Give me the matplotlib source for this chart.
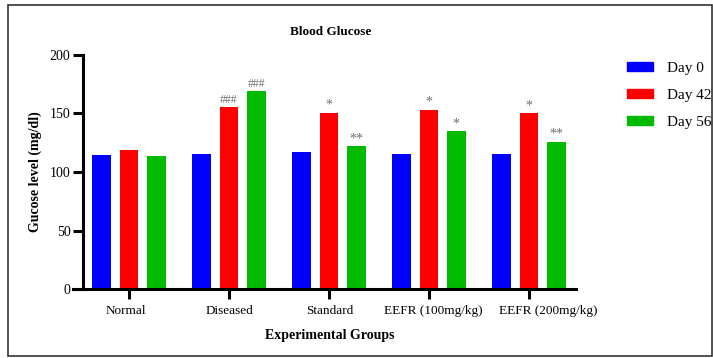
import numpy as np
import matplotlib
matplotlib.use("Agg")
import matplotlib.pyplot as plt
from matplotlib.patches import Rectangle, Patch
from matplotlib.transforms import ScaledTranslation

plt.rcParams['font.family'] = ['Liberation Serif', 'DejaVu Serif']

# Blood glucose per group and day (mg/dl)
groups = ["Normal", "Diseased", "Standard", "EEFR (100mg/kg)", "EEFR (200mg/kg)"]
days = ["Day 0", "Day 42", "Day 56"]
day0 = [114.4, 115.3, 117.0, 115.6, 115.6]
day42 = [118.4, 155.2, 150.3, 152.9, 150.1]
day56 = [113.6, 169.2, 121.8, 134.7, 125.5]
marks42 = ["", "###", "*", "*", "*"]
marks56 = ["", "###", "**", "*", "**"]

colors = ["#0000ff", "#ff0000", "#00bb00"]

fig = plt.figure(figsize=(7.13, 3.58), dpi=100)
ax = fig.add_axes([0.1024, 0.1927, 0.7055, 0.6537])

x = np.arange(len(groups))
width = 0.187
step = 0.273
series = [day0, day42, day56]
for i, (vals, col, lab) in enumerate(zip(series, colors, days)):
    ax.bar(x + (i - 1) * step, vals, width, color=col, label=lab, zorder=2)


def mark(xpos, val, txt):
    size = 8.5 if txt.startswith('#') else 10
    ax.text(xpos, val + 1.0, txt, ha='center', va='bottom', fontsize=size, color='#707070')


# significance marks above Day 42 and Day 56 bars
for xi, v, m in zip(x, day42, marks42):
    if m:
        mark(xi, v, m)
for xi, v, m in zip(x, day56, marks56):
    if m:
        mark(xi + step, v, m)

ax.set_xlim(-0.56, 4.47)
ax.set_ylim(0, 200)
ax.set_yticks([0, 50, 100, 150, 200])
ax.set_xticks(x)
ax.set_xticklabels([])
for t in ax.get_yticklabels():
    t.set_fontweight('bold')
    t.set_fontsize(10)

# group names under the ticks, a few pushed sideways
shifts = [-3, 0, 1, 4, 19]
for xi, name, dx in zip(x, groups, shifts):
    tr = ax.get_xaxis_transform() + ScaledTranslation(dx / 100, -0.16, fig.dpi_scale_trans)
    ax.text(xi, 0, name, transform=tr, ha='center', va='top', fontsize=9.5)

ax.spines['top'].set_visible(False)
ax.spines['right'].set_visible(False)
ax.spines['left'].set_position(('data', -0.46))
for s in ('left', 'bottom'):
    ax.spines[s].set_linewidth(2.2)
ax.tick_params(axis='both', direction='out', width=2.2, length=7, pad=2)

ax.set_title("Blood Glucose", fontsize=9.5, fontweight='bold', x=0.513, y=1.05)
ax.set_ylabel("Gucose level (mg/dl)", fontsize=10, fontweight='bold')
ax.yaxis.set_label_coords(-0.062, 0.5)
ax.set_xlabel("Experimental Groups", fontsize=10, fontweight='bold')
ax.xaxis.set_label_coords(0.51, -0.17)

handles = [Patch(color=c) for c in colors]
fig.legend(handles, days, loc='upper left', bbox_to_anchor=(627 / 713, 1 - 62 / 358),
           frameon=False, fontsize=11, handlelength=1.7, handleheight=0.5,
           handletextpad=0.9, labelspacing=0.92, borderpad=0, borderaxespad=0)

fig.patches.append(Rectangle((8 / 713, 2 / 358), 704 / 713, 351 / 358, transform=fig.transFigure,
                             fill=False, edgecolor='#333333', linewidth=1.2))

fig.savefig("out.png", dpi=100)
